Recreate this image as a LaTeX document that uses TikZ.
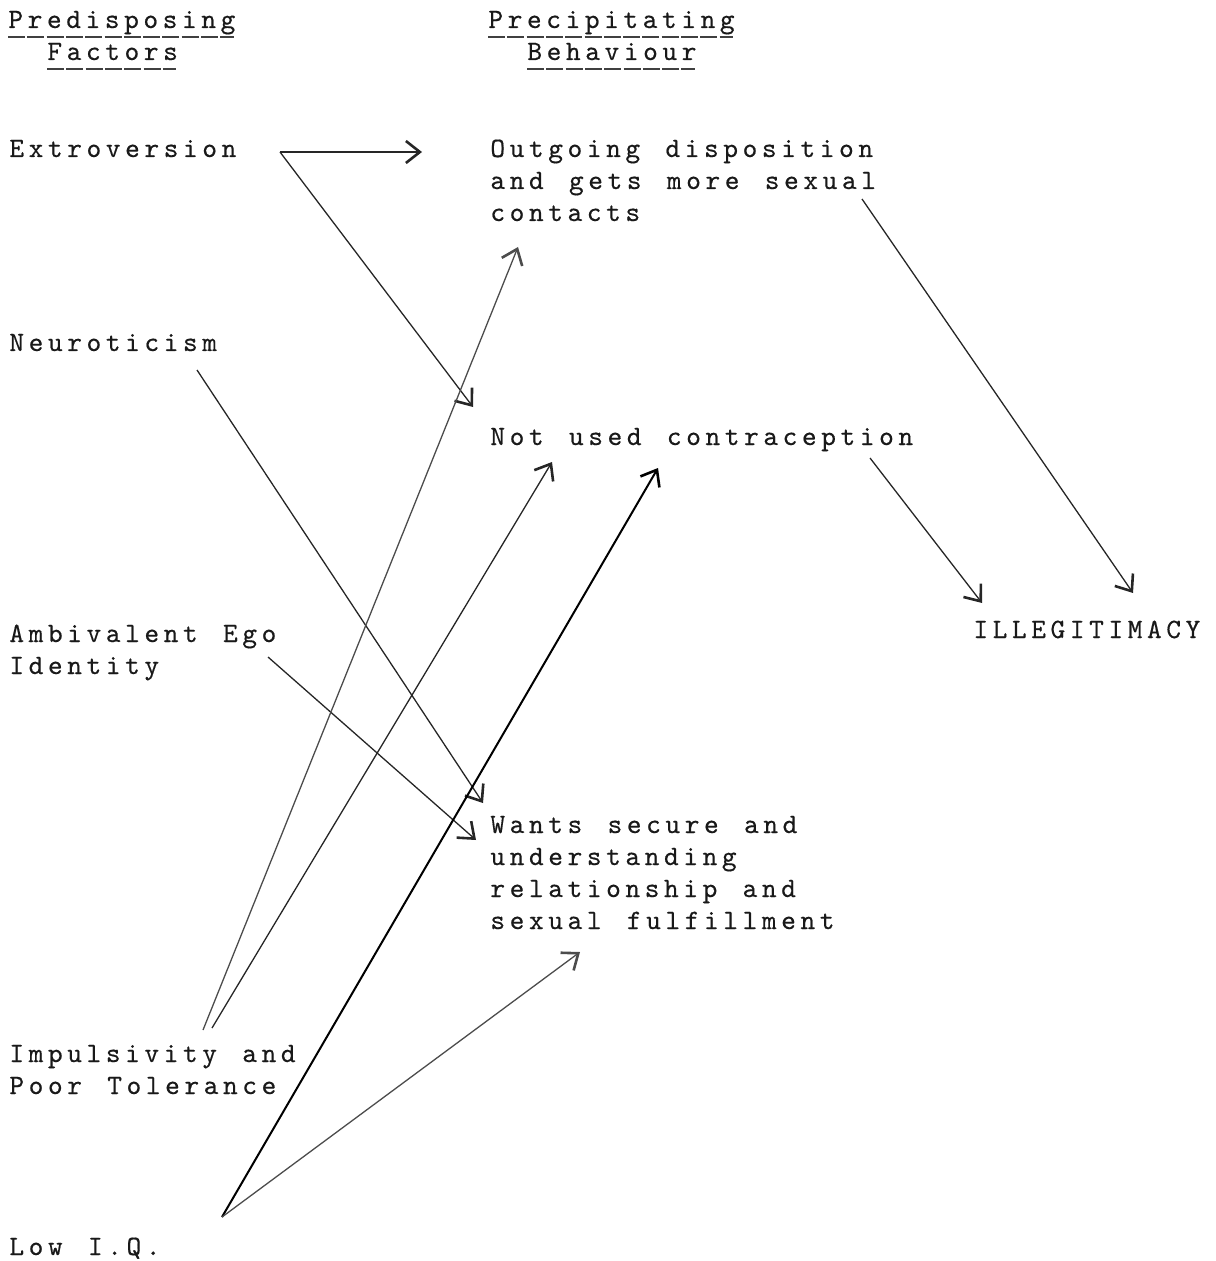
\documentclass[tikz,border=0pt]{standalone}
\usepackage{fontspec}
\newfontfamily\typedfont{lmmono10-regular.otf}[LetterSpace=16.4,WordSpace=1.313,FakeBold=0.4]
\usetikzlibrary{
    calc,
    arrows.meta
}
\tikzset{
    >={Straight Barb[length=7pt,width=11pt,line width=1.3pt]},
    typed/.style={
        anchor=base west,
        inner sep=0pt,
        align=left,
        text=black!90,
        font=\typedfont\fontsize{14pt}{16pt}\selectfont
    },
    typedrule/.style={
        line width=1.1pt,
        black!75,
        dash pattern=on 8.5pt off 1.15pt
    },
    link/.style={
        ->,
        line width=0.65pt,
        black!85
    }
}
\begin{document}
\begin{tikzpicture}[
    x=0.5pt,
    y=-0.5pt
]
    \useasboundingbox (0,0) rectangle (1215,1261);

    % Headings
    \node[typed] (predis) at (8,28) {Predisposing};
    \node[typed] (factors) at (47,60) {Factors};
    \node[typed] (precip) at (488,28) {Precipitating};
    \node[typed] (behav) at (527,60) {Behaviour};
    \foreach \h in {predis,factors,precip,behav}
        \draw[typedrule] ($(\h.base west)+(0,9)$) -- ($(\h.base east)+(-2,9)$);

    % Predisposing factors (base = last line)
    \node[typed] (extro) at (9,157) {Extroversion};
    \node[typed] (neuro) at (9,351) {Neuroticism};
    \node[typed] (ambi) at (9,674) {Ambivalent Ego\\Identity};
    \node[typed] (impul) at (9,1094) {Impulsivity and\\Poor Tolerance};
    \node[typed] (lowiq) at (9,1255) {Low I.Q.};

    % Precipitating behaviour
    \node[typed] (outgo) at (490,221) {Outgoing disposition\\and gets more sexual\\contacts};
    \node[typed] (notused) at (490,445) {Not used contraception};
    \node[typed] (wants) at (490,929) {Wants secure and\\understanding\\relationship and\\sexual fulfillment};
    \node[typed] (illeg) at (973,638) {ILLEGITIMACY};

    % Arrows
    \path[link]
        ($(extro.base west)+(271,-5)$) edge ($(outgo.base west)+(-68,-69)$)
                                       edge ($(notused.base west)+(-17,-38)$)
        ($(neuro.base west)+(188,19)$) edge ($(wants.base west)+(-7,-126)$)
        ($(ambi.base west)+(259,-17)$) edge ($(wants.base west)+(-14,-89)$)
        ($(impul.base west)+(194,-64)$) edge[black!70] ($(outgo.base west)+(28,26)$)
        ($(impul.base west)+(203,-66)$) edge ($(notused.base west)+(62,17)$)
        ($(lowiq.base west)+(213,-38)$) edge[line width=1pt, black] ($(notused.base west)+(168,23)$)
                                        edge[black!70] ($(wants.base west)+(90,23)$)
        ($(outgo.base west)+(372,-22)$) edge ($(illeg.base west)+(160,-45)$)
        ($(notused.base west)+(380,13)$) edge ($(illeg.base west)+(9,-35)$);

\end{tikzpicture}
\end{document}
